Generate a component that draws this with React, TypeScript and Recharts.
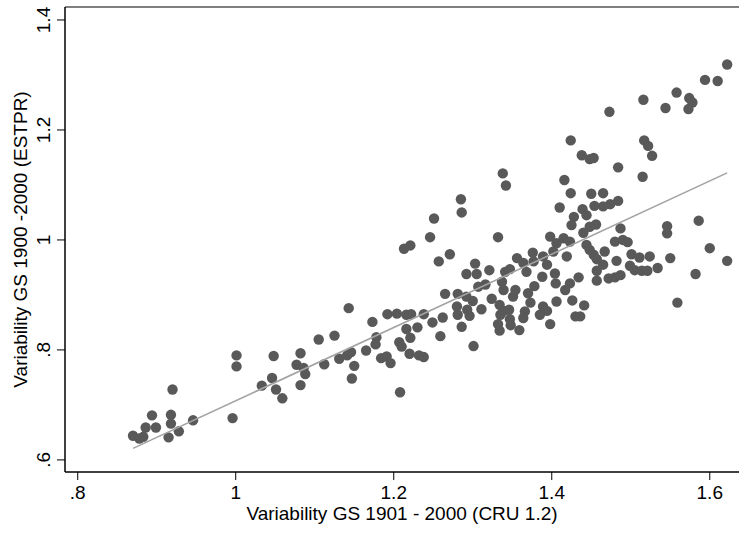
import React from 'react';
import { ScatterChart, Scatter, XAxis, YAxis, ReferenceLine, Label } from 'recharts';

// CRU 1.2 variability (x) vs ESTPR variability (y), one dot per grid cell
const cruVariability = [
    0.870, 0.878, 0.883, 0.886, 0.894, 0.899, 0.915, 0.918, 0.918, 0.920,
    0.928, 0.946, 0.996, 1.001, 1.001, 1.033, 1.048, 1.046, 1.051, 1.059,
    1.143, 1.192, 1.204, 1.216, 1.222, 1.173, 1.216, 1.230, 1.125, 1.105,
    1.221, 1.178, 1.177, 1.207, 1.210, 1.165, 1.146, 1.141, 1.131, 1.220,
    1.232, 1.082, 1.184, 1.191, 1.196, 1.077, 1.112, 1.150, 1.086, 1.088,
    1.147, 1.082, 1.208, 1.246, 1.332, 1.221, 1.213, 1.398, 1.406, 1.257,
    1.271, 1.303, 1.292, 1.305, 1.321, 1.356, 1.376, 1.364, 1.377, 1.389,
    1.402, 1.341, 1.347, 1.368, 1.394, 1.388, 1.404, 1.316, 1.307, 1.337,
    1.339, 1.354, 1.351, 1.378, 1.370, 1.405, 1.265, 1.281, 1.292, 1.300,
    1.324, 1.373, 1.406, 1.238, 1.280, 1.293, 1.311, 1.334, 1.339, 1.346,
    1.366, 1.389, 1.394, 1.281, 1.296, 1.335, 1.347, 1.364, 1.385, 1.262,
    1.249, 1.332, 1.348, 1.398, 1.286, 1.334, 1.359, 1.259, 1.301, 1.238,
    1.338, 1.342, 1.285, 1.286, 1.251, 1.622, 1.594, 1.610, 1.558, 1.574,
    1.578, 1.573, 1.544, 1.516, 1.473, 1.424, 1.517, 1.522, 1.527, 1.438,
    1.448, 1.453, 1.484, 1.515, 1.416, 1.424, 1.450, 1.465, 1.484, 1.474,
    1.465, 1.454, 1.410, 1.439, 1.444, 1.428, 1.425, 1.456, 1.448, 1.440,
    1.487, 1.546, 1.546, 1.586, 1.480, 1.490, 1.496, 1.415, 1.423, 1.444,
    1.448, 1.467, 1.453, 1.419, 1.457, 1.482, 1.501, 1.511, 1.524, 1.550,
    1.600, 1.622, 1.465, 1.499, 1.505, 1.514, 1.521, 1.534, 1.457, 1.434,
    1.457, 1.472, 1.480, 1.487, 1.423, 1.417, 1.582, 1.426, 1.441, 1.430,
    1.436, 1.559,
];

const estprVariability = [
    0.644, 0.639, 0.642, 0.659, 0.681, 0.659, 0.641, 0.682, 0.666, 0.728,
    0.652, 0.672, 0.676, 0.790, 0.770, 0.735, 0.789, 0.749, 0.728, 0.712,
    0.876, 0.865, 0.866, 0.864, 0.865, 0.851, 0.838, 0.841, 0.826, 0.819,
    0.822, 0.823, 0.810, 0.814, 0.806, 0.799, 0.796, 0.790, 0.784, 0.793,
    0.790, 0.794, 0.785, 0.788, 0.776, 0.773, 0.774, 0.771, 0.767, 0.756,
    0.748, 0.736, 0.723, 1.005, 1.005, 0.990, 0.984, 1.006, 0.994, 0.961,
    0.974, 0.957, 0.938, 0.938, 0.945, 0.967, 0.977, 0.958, 0.961, 0.970,
    0.979, 0.942, 0.947, 0.942, 0.955, 0.933, 0.939, 0.919, 0.915, 0.924,
    0.909, 0.909, 0.897, 0.916, 0.903, 0.921, 0.902, 0.902, 0.897, 0.889,
    0.893, 0.886, 0.888, 0.865, 0.879, 0.873, 0.874, 0.882, 0.871, 0.873,
    0.870, 0.879, 0.871, 0.864, 0.862, 0.864, 0.856, 0.858, 0.864, 0.859,
    0.850, 0.847, 0.845, 0.847, 0.842, 0.835, 0.836, 0.825, 0.807, 0.787,
    1.121, 1.099, 1.074, 1.050, 1.039, 1.319, 1.291, 1.289, 1.268, 1.258,
    1.250, 1.238, 1.240, 1.255, 1.233, 1.181, 1.181, 1.171, 1.153, 1.154,
    1.147, 1.149, 1.132, 1.115, 1.109, 1.085, 1.084, 1.085, 1.071, 1.065,
    1.061, 1.062, 1.059, 1.056, 1.045, 1.042, 1.027, 1.028, 1.024, 1.013,
    1.021, 1.025, 1.012, 1.035, 0.997, 1.000, 0.996, 1.003, 0.997, 0.991,
    0.982, 0.979, 0.973, 0.970, 0.965, 0.962, 0.974, 0.968, 0.970, 0.967,
    0.985, 0.962, 0.955, 0.953, 0.945, 0.944, 0.944, 0.949, 0.944, 0.932,
    0.926, 0.930, 0.932, 0.936, 0.921, 0.909, 0.938, 0.890, 0.881, 0.861,
    0.861, 0.886,
];

// fitted line end points (lfit)
const fitX = [0.870, 1.622];
const fitY = [0.621, 1.122];

const xTicks = [0.8, 1, 1.2, 1.4, 1.6];
const yTicks = [0.6, 0.8, 1, 1.2, 1.4];

const X_DOMAIN: [number, number] = [0.7839, 1.637];
const Y_DOMAIN: [number, number] = [0.578, 1.4236];

const FONT = '"Liberation Sans", Arial, Helvetica, sans-serif';
const DOT = '#595959';
const FIT = '#a3a3a3';

const fmt = (v: number) => (v < 1 ? String(v).replace(/^0/, '') : String(v));

const points = cruVariability.map((x, i) => ({ x, y: estprVariability[i] }));
const fitLine = fitX.map((x, i) => ({ x, y: fitY[i] }));

function XTick({ x, y, payload }: any) {
    return (
        <text x={x} y={y + 17} textAnchor="middle" fontSize={19} fontFamily={FONT} fill="#000">
            {fmt(payload.value)}
        </text>
    );
}

function YTick({ x, y, payload }: any) {
    const bx = x - 5;
    return (
        <text x={bx} y={y} transform={`rotate(-90, ${bx}, ${y})`} textAnchor="middle" fontSize={19} fontFamily={FONT} fill="#000">
            {fmt(payload.value)}
        </text>
    );
}

export default function App() {
    return (
        <div style={{ position: 'absolute', left: 0, top: 0, width: 739, height: 534, background: '#fff' }}>
            <ScatterChart width={739} height={534} margin={{ top: 7, right: 0, left: 0, bottom: 0 }}>
                <XAxis
                    type="number"
                    dataKey="x"
                    domain={X_DOMAIN}
                    ticks={xTicks}
                    height={62}
                    tickSize={8}
                    tickMargin={2}
                    tick={<XTick />}
                    axisLine={{ stroke: '#000', strokeWidth: 1.5 }}
                    tickLine={{ stroke: '#000', strokeWidth: 1 }}
                    allowDataOverflow
                >
                    <Label
                        content={({ viewBox }: any) => (
                            <text x={viewBox.x + viewBox.width / 2} y={520} textAnchor="middle" fontSize={19} fontFamily={FONT} fill="#000">
                                Variability GS 1901 - 2000 (CRU 1.2)
                            </text>
                        )}
                    />
                </XAxis>
                <YAxis
                    type="number"
                    dataKey="y"
                    domain={Y_DOMAIN}
                    ticks={yTicks}
                    width={65}
                    tickSize={8}
                    tickMargin={2}
                    tick={<YTick />}
                    axisLine={{ stroke: '#000', strokeWidth: 1.5 }}
                    tickLine={{ stroke: '#000', strokeWidth: 1 }}
                    allowDataOverflow
                >
                    <Label
                        content={({ viewBox }: any) => {
                            const cy = viewBox.y + viewBox.height / 2;
                            return (
                                <text x={27} y={cy} transform={`rotate(-90, 27, ${cy})`} textAnchor="middle" fontSize={19} fontFamily={FONT} fill="#000">
                                    Variability GS 1900 -2000 (ESTPR)
                                </text>
                            );
                        }}
                    />
                </YAxis>
                <ReferenceLine y={Y_DOMAIN[1]} stroke="#000" strokeWidth={1.2} />
                <Scatter
                    data={points}
                    isAnimationActive={false}
                    shape={(p: any) => <circle cx={p.cx} cy={p.cy} r={5.2} fill={DOT} />}
                />
                <Scatter
                    data={fitLine}
                    isAnimationActive={false}
                    line={{ stroke: FIT, strokeWidth: 1.6 }}
                    lineType="joint"
                    shape={() => <g />}
                />
            </ScatterChart>
        </div>
    );
}
